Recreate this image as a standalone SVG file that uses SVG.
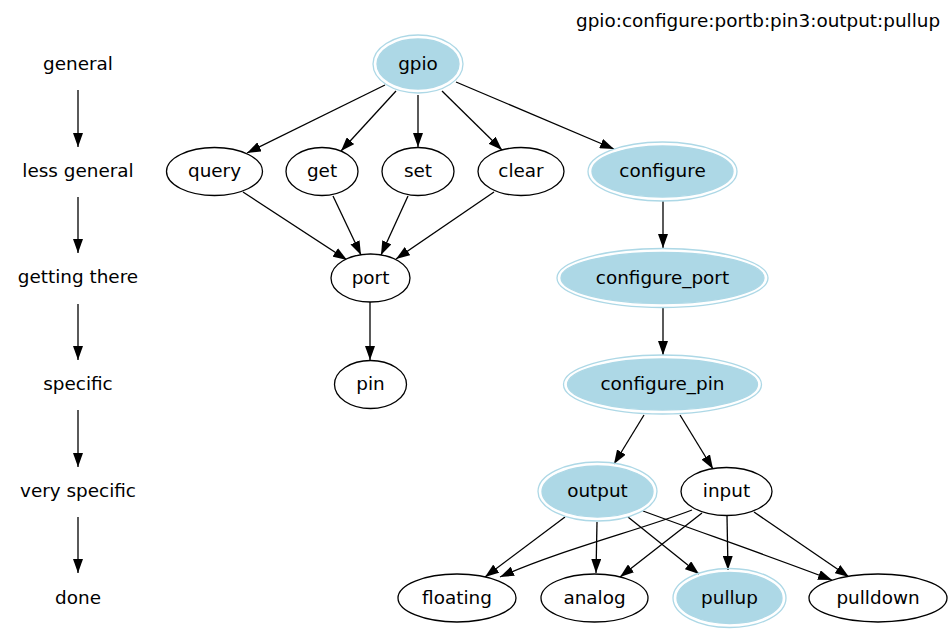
<svg xmlns="http://www.w3.org/2000/svg" width="952" height="633" viewBox="0 0 952 633">
<defs>
<marker id="ah" markerUnits="userSpaceOnUse" markerWidth="14" markerHeight="10" refX="14" refY="5" orient="auto">
<path d="M0,0 L14,5 L0,10 z" fill="#000"/>
</marker>
<style>
text{font-family:"DejaVu Sans","Liberation Sans",sans-serif;font-size:18.4px;fill:#000;text-anchor:middle}
.n ellipse{fill:#fff;stroke:#000;stroke-width:1.3}
.h .o{fill:none;stroke:#add8e6;stroke-width:1.3}
.h .i{fill:#add8e6;stroke:#add8e6;stroke-width:1.3}
.e path,.e line{fill:none;stroke:#000;stroke-width:1.3;marker-end:url(#ah)}
</style>
</defs>
<rect width="952" height="633" fill="#fff"/>
<text x="576" y="27" style="text-anchor:start">gpio:configure:portb:pin3:output:pullup</text>

<g id="levels">
<text x="78" y="70">general</text>
<text x="78" y="177">less general</text>
<text x="78" y="283">getting there</text>
<text x="78" y="390">specific</text>
<text x="78" y="497">very specific</text>
<text x="78" y="604">done</text>
</g>

<g id="edges" class="e">
<line x1="78" y1="90" x2="78" y2="147"/>
<line x1="78" y1="197" x2="78" y2="253"/>
<line x1="78" y1="304" x2="78" y2="360"/>
<line x1="78" y1="410" x2="78" y2="467"/>
<line x1="78" y1="517" x2="78" y2="573"/>

<line x1="385" y1="85" x2="247" y2="153"/>
<line x1="396" y1="91" x2="341" y2="151"/>
<line x1="418" y1="95" x2="418" y2="147"/>
<line x1="442" y1="91" x2="502" y2="150"/>
<line x1="456" y1="82" x2="614" y2="149"/>
<line x1="663" y1="201" x2="663" y2="248"/>
<line x1="243" y1="192" x2="347" y2="260"/>
<line x1="333" y1="196" x2="361" y2="255"/>
<line x1="408" y1="196" x2="381" y2="255"/>
<line x1="494" y1="192" x2="396" y2="259"/>
<line x1="370" y1="302" x2="370" y2="360"/>
<line x1="663" y1="307" x2="663" y2="355"/>
<line x1="644" y1="415" x2="614" y2="464"/>
<line x1="680" y1="415" x2="713" y2="469"/>
<line x1="565" y1="517" x2="485" y2="577"/>
<line x1="597" y1="522" x2="596" y2="573"/>
<line x1="628" y1="517" x2="699" y2="574"/>
<path d="M643,511 C700,532 780,560 832,580"/>
<path d="M692,510 C640,530 560,550 500,577"/>
<line x1="702" y1="513" x2="620" y2="577"/>
<line x1="727" y1="516" x2="728" y2="570"/>
<line x1="754" y1="512" x2="849" y2="577"/>
</g>

<g id="gpio" class="h">
<ellipse class="o" cx="418" cy="64" rx="45" ry="29"/>
<ellipse class="i" cx="418" cy="64" rx="41" ry="25"/>
<text x="418" y="70">gpio</text>
</g>
<g id="query" class="n">
<ellipse cx="214.5" cy="171.5" rx="48" ry="24"/>
<text x="214.5" y="177">query</text>
</g>
<g id="get" class="n">
<ellipse cx="322" cy="171.5" rx="36" ry="24"/>
<text x="322" y="177">get</text>
</g>
<g id="set" class="n">
<ellipse cx="418" cy="171.5" rx="36" ry="24"/>
<text x="418" y="177">set</text>
</g>
<g id="clear" class="n">
<ellipse cx="521" cy="171.5" rx="43" ry="24"/>
<text x="521" y="177">clear</text>
</g>
<g id="configure" class="h">
<ellipse class="o" cx="662.5" cy="171.5" rx="74.5" ry="29.5"/>
<ellipse class="i" cx="662.5" cy="171.5" rx="70.5" ry="25.5"/>
<text x="662.5" y="177">configure</text>
</g>
<g id="port" class="n">
<ellipse cx="370.5" cy="278" rx="39.5" ry="24"/>
<text x="370.5" y="283.5">port</text>
</g>
<g id="configure_port" class="h">
<ellipse class="o" cx="662.5" cy="278" rx="105.5" ry="29.5"/>
<ellipse class="i" cx="662.5" cy="278" rx="101.5" ry="25.5"/>
<text x="662.5" y="283.5">configure_port</text>
</g>
<g id="pin" class="n">
<ellipse cx="370.5" cy="384.5" rx="36" ry="24"/>
<text x="370.5" y="390">pin</text>
</g>
<g id="configure_pin" class="h">
<ellipse class="o" cx="662.5" cy="384.5" rx="99" ry="29.5"/>
<ellipse class="i" cx="662.5" cy="384.5" rx="95" ry="25.5"/>
<text x="662.5" y="390">configure_pin</text>
</g>
<g id="output" class="h">
<ellipse class="o" cx="597.5" cy="491.5" rx="59.5" ry="29.5"/>
<ellipse class="i" cx="597.5" cy="491.5" rx="55.5" ry="25.5"/>
<text x="597.5" y="497">output</text>
</g>
<g id="input" class="n">
<ellipse cx="726.5" cy="491.5" rx="45.5" ry="24"/>
<text x="726.5" y="497">input</text>
</g>
<g id="floating" class="n">
<ellipse cx="457" cy="598" rx="59" ry="24"/>
<text x="457" y="603.5">floating</text>
</g>
<g id="analog" class="n">
<ellipse cx="594.5" cy="598" rx="53.5" ry="24"/>
<text x="594.5" y="603.5">analog</text>
</g>
<g id="pullup" class="h">
<ellipse class="o" cx="729.5" cy="598" rx="56.5" ry="29.5"/>
<ellipse class="i" cx="729.5" cy="598" rx="52.5" ry="25.5"/>
<text x="729.5" y="603.5">pullup</text>
</g>
<g id="pulldown" class="n">
<ellipse cx="878" cy="598" rx="69" ry="24"/>
<text x="878" y="603.5">pulldown</text>
</g>
</svg>
